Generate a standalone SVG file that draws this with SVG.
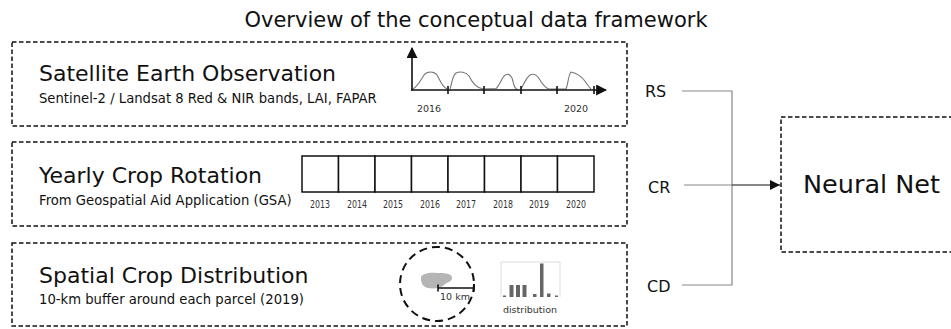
<svg xmlns="http://www.w3.org/2000/svg" width="951" height="329" viewBox="0 0 951 329">
  <style>
    text { font-family: "DejaVu Sans", Verdana, sans-serif; fill: #111; }
    .frame { fill: none; stroke: #111; stroke-width: 1.5; stroke-dasharray: 4.5 2.5; }
    .h1 { font-size: 21px; }
    .h2 { font-size: 22px; }
    .sub { font-size: 13.2px; }
    .lbl { font-size: 16px; }
    .yr { font-size: 10px; fill: #333; }
    .small { font-size: 9.5px; fill: #333; }
    .curve { fill: none; stroke: #777; stroke-width: 1.1; }
    .axis { stroke: #111; stroke-width: 1.6; fill: none; }
    .cell { fill: #fff; stroke: #111; stroke-width: 1.5; }
    .wire { fill: none; stroke: #888; stroke-width: 1.2; }
    .bar { fill: #666; }
  </style>
  <defs>
    <marker id="arrow" viewBox="0 0 10 10" refX="10" refY="5" markerWidth="10" markerHeight="10" markerUnits="userSpaceOnUse" orient="auto">
      <path d="M0,0 L10,5 L0,10 Z" fill="#111"/>
    </marker>
    <marker id="axhead" viewBox="0 0 10 10" refX="9" refY="5" markerWidth="11" markerHeight="11" markerUnits="userSpaceOnUse" orient="auto">
      <path d="M0,0 L10,5 L0,10 Z" fill="#111"/>
    </marker>
  </defs>

  <text class="h1" x="476" y="27" text-anchor="middle">Overview of the conceptual data framework</text>

  <!-- Satellite Earth Observation -->
  <g id="node-rs">
    <rect class="frame" x="12" y="42" width="615" height="84"/>
    <text class="h2" x="39" y="81">Satellite Earth Observation</text>
    <text class="sub" x="39" y="103">Sentinel-2 / Landsat 8 Red &amp; NIR bands, LAI, FAPAR</text>
    <!-- time series sketch -->
    <path class="curve" d="M413,89 C418,86 421,80 424,75 C427,71 434,71 437,75 C440,80 442,87 447,89
      M450,89 C452,84 452,76 456,73 C460,71 466,72 469,76 C472,82 476,88 483,89
      L496,88.5 C499,86 501,80 504,76 C507,73 510,74 512,78 C514,83 513,88 518,90
      M521,89 C524,84 526,78 530,75 C534,73 537,75 540,80 C543,85 545,88 549,89
      L566,89 C568,85 568,76 571,72 C575,73 581,76 584,80 C587,84 589,87 591,89"/>
    <line class="axis" x1="412" y1="90.5" x2="412" y2="48" marker-end="url(#axhead)"/>
    <line class="axis" x1="411" y1="90" x2="606" y2="90" marker-end="url(#axhead)"/>
    <g class="axis">
      <line x1="448" y1="86" x2="448" y2="94"/>
      <line x1="484" y1="86" x2="484" y2="94"/>
      <line x1="521" y1="86" x2="521" y2="94"/>
      <line x1="557" y1="86" x2="557" y2="94"/>
      <line x1="594" y1="86" x2="594" y2="94"/>
    </g>
    <text class="small" x="429" y="112" text-anchor="middle">2016</text>
    <text class="small" x="576" y="112" text-anchor="middle">2020</text>
  </g>

  <!-- Yearly Crop Rotation -->
  <g id="node-cr">
    <rect class="frame" x="12" y="142" width="615" height="84"/>
    <text class="h2" x="39" y="183">Yearly Crop Rotation</text>
    <text class="sub" x="39" y="205">From Geospatial Aid Application (GSA)</text>
    <g>
      <rect class="cell" x="302" y="156" width="36.5" height="36"/>
      <rect class="cell" x="338.5" y="156" width="36.5" height="36"/>
      <rect class="cell" x="375" y="156" width="36.5" height="36"/>
      <rect class="cell" x="411.5" y="156" width="36.5" height="36"/>
      <rect class="cell" x="448" y="156" width="36.5" height="36"/>
      <rect class="cell" x="484.5" y="156" width="36.5" height="36"/>
      <rect class="cell" x="521" y="156" width="36.5" height="36"/>
      <rect class="cell" x="557.5" y="156" width="36.5" height="36"/>
    </g>
    <g text-anchor="middle">
      <text class="yr" x="320" y="208" textLength="20" lengthAdjust="spacingAndGlyphs">2013</text>
      <text class="yr" x="357" y="208" textLength="20" lengthAdjust="spacingAndGlyphs">2014</text>
      <text class="yr" x="393" y="208" textLength="20" lengthAdjust="spacingAndGlyphs">2015</text>
      <text class="yr" x="430" y="208" textLength="20" lengthAdjust="spacingAndGlyphs">2016</text>
      <text class="yr" x="466" y="208" textLength="20" lengthAdjust="spacingAndGlyphs">2017</text>
      <text class="yr" x="503" y="208" textLength="20" lengthAdjust="spacingAndGlyphs">2018</text>
      <text class="yr" x="539" y="208" textLength="20" lengthAdjust="spacingAndGlyphs">2019</text>
      <text class="yr" x="576" y="208" textLength="20" lengthAdjust="spacingAndGlyphs">2020</text>
    </g>
  </g>

  <!-- Spatial Crop Distribution -->
  <g id="node-cd">
    <rect class="frame" x="12" y="243" width="615" height="83"/>
    <text class="h2" x="39" y="283">Spatial Crop Distribution</text>
    <text class="sub" x="39" y="304">10-km buffer around each parcel (2019)</text>
    <circle cx="437" cy="284" r="37" fill="none" stroke="#111" stroke-width="2" stroke-dasharray="8 5"/>
    <path d="M421,279 C420,274 428,272 437,273 C444,273 452,273 452,278 C452,282 447,282 444,285 C441,288 434,289 428,288 C423,287 421,283 421,279 Z" fill="#b5b5b5"/>
    <g class="axis" stroke-width="2">
      <line x1="438" y1="288" x2="474" y2="288"/>
      <line x1="438" y1="284.5" x2="438" y2="291.5"/>
      <line x1="474" y1="284.5" x2="474" y2="291.5"/>
    </g>
    <text class="small" x="455" y="300" text-anchor="middle">10 km</text>
    <!-- histogram thumbnail -->
    <path d="M501,297 L501,262 L560,262 L560,297" fill="none" stroke="#ddd" stroke-width="1"/>
    <g class="bar">
      <rect x="503" y="295.5" width="3" height="1.5"/>
      <rect x="509.5" y="285" width="4" height="12"/>
      <rect x="516" y="285" width="4" height="12"/>
      <rect x="522.5" y="285" width="4" height="12"/>
      <rect x="533" y="294" width="3.5" height="3"/>
      <rect x="540" y="263.5" width="3.5" height="33.5"/>
      <rect x="547" y="293.5" width="3.5" height="3.5"/>
      <rect x="555" y="295.5" width="3" height="1.5"/>
    </g>
    <text class="small" x="530" y="313" text-anchor="middle">distribution</text>
  </g>

  <!-- Neural Net -->
  <g id="node-nn">
    <rect class="frame" x="781" y="117" width="180" height="135"/>
    <text x="803" y="193" font-size="25.5px">Neural Net</text>
  </g>

  <!-- input labels -->
  <g id="labels">
    <text class="lbl" x="645" y="97">RS</text>
    <text class="lbl" x="648" y="193">CR</text>
    <text class="lbl" x="647" y="292">CD</text>
  </g>

  <!-- connectors -->
  <g id="connectors">
    <path class="wire" d="M682,91 H732 V285 H682"/>
    <line class="wire" x1="684" y1="185" x2="732" y2="185"/>
    <line x1="732" y1="185" x2="780" y2="185" stroke="#111" stroke-width="1.2" marker-end="url(#arrow)"/>
  </g>
</svg>
